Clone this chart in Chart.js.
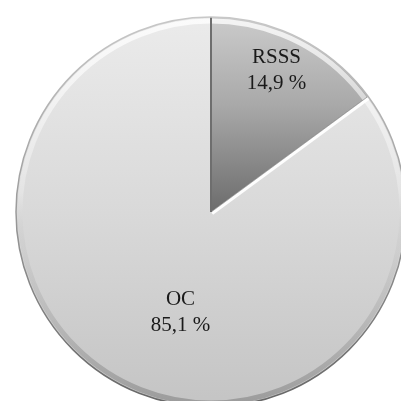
<!DOCTYPE html>
<html>
<head>
<meta charset="utf-8">
<script src="https://cdn.jsdelivr.net/npm/chart.js@4"></script>
<style>
  html, body { margin: 0; padding: 0; background: #fff; overflow: hidden; width: 401px; height: 401px; }
  #wrap { position: absolute; left: 0; top: 0; }
</style>
</head>
<body>
<div id="wrap"><canvas id="pie" width="422" height="424"></canvas></div>
<script>
const categories = ['RSSS', 'OC']
const shares = [14.9, 85.1]
const shareLabels = ['14,9 %', '85,1 %']

// where the two-line label sits, as a share of the radius and a turn off the mid angle
const labelRadius = [0.8, 0.54]
const labelTurn = [-2, -10]

function sliceFill(context) {
  const chart = context.chart
  const area = chart.chartArea
  if (!area) return '#d8d8d8'
  const c = chart.ctx
  const cy = (area.top + area.bottom) / 2
  const r = 195
  if (context.dataIndex === 0) {
    const g = c.createLinearGradient(0, cy - r, 0, cy)
    g.addColorStop(0, '#cbcbcb')
    g.addColorStop(0.45, '#a9a9a9')
    g.addColorStop(1, '#6c6c6c')
    return g
  }
  const g = c.createLinearGradient(0, cy - r, 0, cy + r)
  g.addColorStop(0, '#ebebeb')
  g.addColorStop(0.5, '#d9d9d9')
  g.addColorStop(1, '#c4c4c4')
  return g
}

const piePlugin = {
  id: 'pieDetails',
  afterDatasetsDraw(chart) {
    const c = chart.ctx
    const arcs = chart.getDatasetMeta(0).data
    const first = arcs[0]
    const cx = first.x, cy = first.y, r = first.outerRadius
    c.save()
    // rim bevel: white on the upper part, grey on the lower part
    const bevel = c.createLinearGradient(0, cy - r, 0, cy + r)
    bevel.addColorStop(0, 'rgba(255,255,255,0.8)')
    bevel.addColorStop(0.45, 'rgba(255,255,255,0.25)')
    bevel.addColorStop(0.6, 'rgba(150,150,150,0.1)')
    bevel.addColorStop(1, 'rgba(120,120,120,0.55)')
    c.strokeStyle = bevel
    c.lineWidth = 5
    c.beginPath()
    c.arc(cx, cy, r - 4, 0, Math.PI * 2)
    c.stroke()
    // white bevel along the RSSS / OC edge, on the OC side
    const a = first.endAngle
    const nx = -Math.sin(a), ny = Math.cos(a)
    c.strokeStyle = 'rgba(255,255,255,0.95)'
    c.lineWidth = 3
    c.beginPath()
    c.moveTo(cx + nx * 2, cy + ny * 2)
    c.lineTo(cx + Math.cos(a) * r + nx * 2, cy + Math.sin(a) * r + ny * 2)
    c.stroke()
    c.strokeStyle = 'rgba(120,120,120,0.6)'
    c.lineWidth = 1
    c.beginPath()
    c.moveTo(cx, cy)
    c.lineTo(cx + Math.cos(a) * r, cy + Math.sin(a) * r)
    c.stroke()
    // dark line along the start of RSSS
    const s = first.startAngle
    c.strokeStyle = '#6e6e6e'
    c.lineWidth = 2
    c.beginPath()
    c.moveTo(cx, cy)
    c.lineTo(cx + Math.cos(s) * r, cy + Math.sin(s) * r)
    c.stroke()
    // outline
    const rim = c.createLinearGradient(0, cy - r, 0, cy + r)
    rim.addColorStop(0, '#c8c8c8')
    rim.addColorStop(0.5, '#9a9a9a')
    rim.addColorStop(1, '#666666')
    c.strokeStyle = rim
    c.lineWidth = 1.5
    c.beginPath()
    c.arc(cx, cy, r, 0, Math.PI * 2)
    c.stroke()
    // labels
    c.fillStyle = '#1a1a1a'
    c.font = '21px "Liberation Serif", "Times New Roman", serif'
    c.textAlign = 'center'
    c.textBaseline = 'middle'
    arcs.forEach((arc, i) => {
      const mid = (arc.startAngle + arc.endAngle) / 2 + labelTurn[i] * Math.PI / 180
      const x = arc.x + Math.cos(mid) * arc.outerRadius * labelRadius[i]
      const y = arc.y + Math.sin(mid) * arc.outerRadius * labelRadius[i]
      c.fillText(categories[i], x, y - 13)
      c.fillText(shareLabels[i], x, y + 13)
    })
    c.restore()
  },
}

new Chart(document.getElementById('pie'), {
  type: 'pie',
  data: {
    labels: categories,
    datasets: [
      {
        data: shares,
        backgroundColor: sliceFill,
        borderWidth: 0,
      },
    ],
  },
  options: {
    responsive: false,
    animation: false,
    radius: 195,
    layout: { padding: 0 },
    plugins: {
      legend: { display: false },
      tooltip: { enabled: false },
    },
  },
  plugins: [piePlugin],
})
</script>
</body>
</html>
